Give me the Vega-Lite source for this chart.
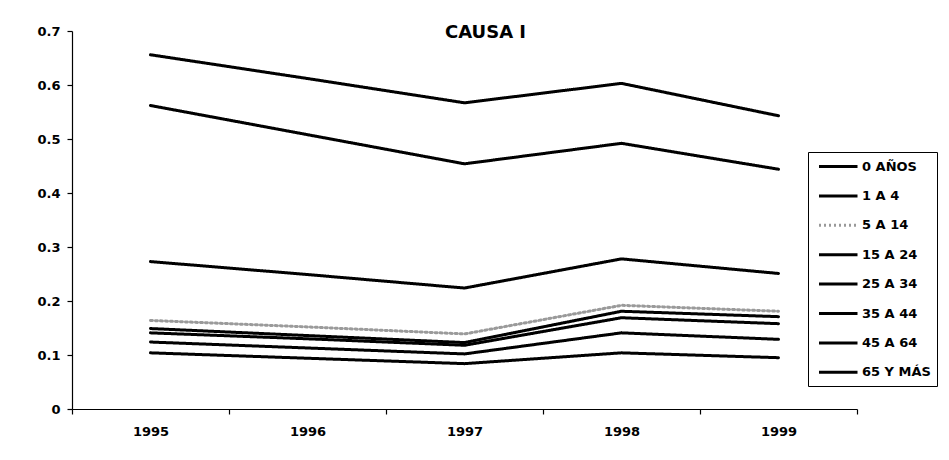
{
  "$schema": "https://vega.github.io/schema/vega-lite/v6.json",
  "width": 785,
  "height": 378,
  "autosize": {"type": "none"},
  "padding": {"left": 72, "top": 31, "right": 92, "bottom": 51},
  "background": "white",
  "title": {"text": "CAUSA I", "font": "DejaVu Sans", "fontSize": 18, "fontWeight": "bold", "color": "black", "anchor": "middle", "dx": 21, "baseline": "alphabetic", "offset": -31},
  "config": {
    "view": {"stroke": null},
    "axis": {"domainColor": "black", "tickColor": "black", "labelColor": "black", "labelFont": "DejaVu Sans", "labelFontWeight": "bold", "labelFontSize": 13, "grid": false, "title": null, "domainWidth": 1.2, "tickWidth": 1.2}
  },
  "data": {"values": [
    {"anio": "1995", "grupo": "0 AÑOS", "valor": 0.656},
    {"anio": "1996", "grupo": "0 AÑOS", "valor": 0.612},
    {"anio": "1997", "grupo": "0 AÑOS", "valor": 0.567},
    {"anio": "1998", "grupo": "0 AÑOS", "valor": 0.603},
    {"anio": "1999", "grupo": "0 AÑOS", "valor": 0.543},
    {"anio": "1995", "grupo": "65 Y MÁS", "valor": 0.562},
    {"anio": "1996", "grupo": "65 Y MÁS", "valor": 0.508},
    {"anio": "1997", "grupo": "65 Y MÁS", "valor": 0.454},
    {"anio": "1998", "grupo": "65 Y MÁS", "valor": 0.492},
    {"anio": "1999", "grupo": "65 Y MÁS", "valor": 0.444},
    {"anio": "1995", "grupo": "1 A 4", "valor": 0.273},
    {"anio": "1996", "grupo": "1 A 4", "valor": 0.249},
    {"anio": "1997", "grupo": "1 A 4", "valor": 0.224},
    {"anio": "1998", "grupo": "1 A 4", "valor": 0.278},
    {"anio": "1999", "grupo": "1 A 4", "valor": 0.251},
    {"anio": "1995", "grupo": "5 A 14", "valor": 0.164},
    {"anio": "1996", "grupo": "5 A 14", "valor": 0.152},
    {"anio": "1997", "grupo": "5 A 14", "valor": 0.139},
    {"anio": "1998", "grupo": "5 A 14", "valor": 0.192},
    {"anio": "1999", "grupo": "5 A 14", "valor": 0.181},
    {"anio": "1995", "grupo": "15 A 24", "valor": 0.149},
    {"anio": "1996", "grupo": "15 A 24", "valor": 0.136},
    {"anio": "1997", "grupo": "15 A 24", "valor": 0.123},
    {"anio": "1998", "grupo": "15 A 24", "valor": 0.181},
    {"anio": "1999", "grupo": "15 A 24", "valor": 0.171},
    {"anio": "1995", "grupo": "25 A 34", "valor": 0.141},
    {"anio": "1996", "grupo": "25 A 34", "valor": 0.130},
    {"anio": "1997", "grupo": "25 A 34", "valor": 0.118},
    {"anio": "1998", "grupo": "25 A 34", "valor": 0.169},
    {"anio": "1999", "grupo": "25 A 34", "valor": 0.158},
    {"anio": "1995", "grupo": "35 A 44", "valor": 0.124},
    {"anio": "1996", "grupo": "35 A 44", "valor": 0.113},
    {"anio": "1997", "grupo": "35 A 44", "valor": 0.102},
    {"anio": "1998", "grupo": "35 A 44", "valor": 0.141},
    {"anio": "1999", "grupo": "35 A 44", "valor": 0.129},
    {"anio": "1995", "grupo": "45 A 64", "valor": 0.104},
    {"anio": "1996", "grupo": "45 A 64", "valor": 0.094},
    {"anio": "1997", "grupo": "45 A 64", "valor": 0.084},
    {"anio": "1998", "grupo": "45 A 64", "valor": 0.104},
    {"anio": "1999", "grupo": "45 A 64", "valor": 0.095}
  ]},
  "mark": {"type": "line", "strokeWidth": 3, "strokeCap": "round", "strokeJoin": "round"},
  "encoding": {
    "x": {"field": "anio", "type": "ordinal", "bandPosition": 0.5,
      "scale": {"type": "band", "paddingInner": 0, "paddingOuter": 0},
      "axis": {"tickBand": "extent", "labelAngle": 0, "tickSize": 5, "labelPadding": 11}},
    "y": {"field": "valor", "type": "quantitative",
      "scale": {"domain": [0, 0.7], "nice": false, "zero": true},
      "axis": {"values": [0, 0.1, 0.2, 0.3, 0.4, 0.5, 0.6, 0.7], "format": "~g", "tickSize": 5, "labelPadding": 7}},
    "color": {"field": "grupo", "type": "nominal",
      "scale": {"domain": ["0 AÑOS", "1 A 4", "5 A 14", "15 A 24", "25 A 34", "35 A 44", "45 A 64", "65 Y MÁS"],
        "range": ["black", "black", "#9a9a9a", "black", "black", "black", "black", "black"]},
      "legend": {"orient": "none", "legendX": 736, "legendY": 121, "direction": "vertical", "title": null,
        "symbolType": "M-0.5,0H5", "symbolSize": 196, "symbolStrokeWidth": 3, "labelOffset": 31, "rowPadding": 13.4, "padding": 6,
        "strokeColor": "black", "fillColor": "white", "labelFont": "DejaVu Sans", "labelFontWeight": "bold", "labelFontSize": 13, "labelColor": "black"}},
    "strokeDash": {"field": "grupo", "type": "nominal",
      "scale": {"domain": ["0 AÑOS", "1 A 4", "5 A 14", "15 A 24", "25 A 34", "35 A 44", "45 A 64", "65 Y MÁS"],
        "range": [[1, 0], [1, 0], [2, 3], [1, 0], [1, 0], [1, 0], [1, 0], [1, 0]]}},
    "strokeWidth": {"condition": {"test": "datum.grupo === '5 A 14'", "value": 1.5}, "value": 3}
  }
}
